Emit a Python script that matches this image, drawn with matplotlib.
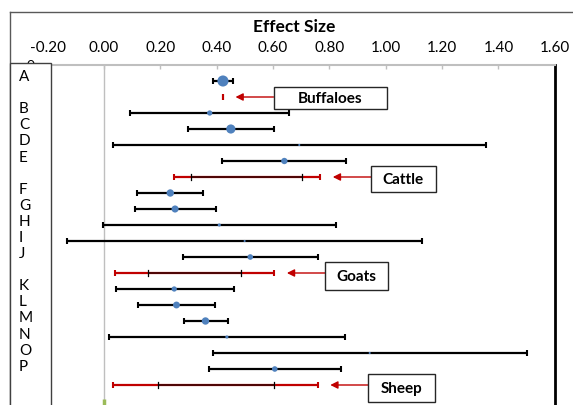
import matplotlib
matplotlib.use("Agg")
import matplotlib.pyplot as plt
from matplotlib.patches import Rectangle
from matplotlib.lines import Line2D
import numpy as np

# ---------------- data ----------------
study_names = ['A', 'B', 'C', 'D', 'E', 'F', 'G', 'H', 'I', 'J',
               'K', 'L', 'M', 'N', 'O', 'P']
study_es = [0.422, 0.375, 0.450, 0.693, 0.640, 0.235, 0.252, 0.409, 0.499, 0.519,
            0.249, 0.257, 0.360, 0.436, 0.943, 0.606]
study_lo = [0.385, 0.092, 0.299, 0.030, 0.420, 0.116, 0.109, -0.005, -0.131, 0.281,
            0.041, 0.120, 0.283, 0.019, 0.385, 0.371]
study_hi = [0.457, 0.658, 0.602, 1.356, 0.860, 0.351, 0.396, 0.822, 1.127, 0.758,
            0.460, 0.395, 0.439, 0.856, 1.503, 0.840]
study_weight = [11.0, 2.5, 7.5, 0.4, 3.6, 4.9, 4.5, 0.9, 0.4, 2.8,
                2.5, 4.2, 4.9, 0.9, 0.4, 2.8]

groups = ['Buffaloes', 'Cattle', 'Goats', 'Sheep']
group_sizes = [1, 4, 5, 6]
group_pi_lo = [0.4205, 0.247, 0.039, 0.033]
group_pi_hi = [0.4215, 0.767, 0.604, 0.758]
group_ci_lo = [0.4205, 0.309, 0.155, 0.191]
group_ci_hi = [0.4215, 0.704, 0.487, 0.602]

x_ticks = [-0.20, 0.00, 0.20, 0.40, 0.60, 0.80, 1.00, 1.20, 1.40, 1.60]
x_title = 'Effect Size'
# text box of study labels (blank lines separate species)
label_lines = ['A', '', 'B', 'C', 'D', 'E', '', 'F', 'G', 'H', 'I', 'J', '',
               'K', 'L', 'M', 'N', 'O', 'P']

# ---------------- layout helpers ----------------
W, H = 573, 406
fig = plt.figure(figsize=(W / 100, H / 100), dpi=100)
plt.rcParams['font.family'] = ['Lato', 'DejaVu Sans']

def fx(px):
    return px / W

def fy(py):
    return 1 - py / H

ax_left_px, ax_right_px = 47.75, 554.75
ax_top_px, row_px, n_rows_axis = 66, 16, 22
ax_bot_px = ax_top_px + row_px * n_rows_axis
ax = fig.add_axes([fx(ax_left_px), fy(ax_bot_px),
                   fx(ax_right_px) - fx(ax_left_px), (ax_bot_px - ax_top_px) / H])
ax.set_xlim(x_ticks[0], x_ticks[-1])
ax.set_ylim(n_rows_axis, 0)

# row positions
study_rows, group_rows = [], []
r = 1
for g, n in zip(groups, group_sizes):
    for _ in range(n):
        study_rows.append(r)
        r += 1
    group_rows.append(r)
    r += 1

red = '#C00000'
blue = '#4F81BD'

# zero line
ax.axvline(0, color='#BFBFBF', lw=1.0, zorder=1)
ax.plot([0, 0], [20.85, 21.4], color='#9BBB59', lw=2.5, zorder=1, solid_capstyle='butt')

# studies
xerr = [np.array(study_es) - np.array(study_lo), np.array(study_hi) - np.array(study_es)]
ax.errorbar(study_es, study_rows, xerr=xerr, fmt='none', ecolor='black',
            elinewidth=1.6, capsize=2.4, capthick=1.5, zorder=3)
ax.scatter(study_es, study_rows, s=5.8 * np.array(study_weight), color=blue,
           zorder=4, linewidths=0)

# group summaries
box_w_px = [113, 65, 63, 67]
box_h_px = [22, 26.5, 27.5, 28]
box_dy_px = [0.9, 2.0, 3.0, 3.3]
unit_px = (ax_right_px - ax_left_px) / (x_ticks[-1] - x_ticks[0])
for i, g in enumerate(groups):
    y = group_rows[i]
    ax.plot([group_pi_lo[i], group_pi_hi[i]], [y, y], color=red, lw=1.6, zorder=2,
            solid_capstyle='butt')
    if group_ci_hi[i] - group_ci_lo[i] > 0.01:
        ax.plot([group_ci_lo[i], group_ci_hi[i]], [y, y], color='#3a0808', lw=1.2,
                zorder=3, solid_capstyle='butt')
        for xv in (group_ci_lo[i], group_ci_hi[i]):
            ax.plot([xv, xv], [y - 0.2, y + 0.2], color='black', lw=0.9, zorder=3)
    for xv in (group_pi_lo[i], group_pi_hi[i]):
        ax.plot([xv, xv], [y - 0.18, y + 0.18], color=red, lw=1.5, zorder=4,
                solid_capstyle='butt')
    head = group_pi_hi[i] + 0.045
    box_left = head + 0.135
    ax.annotate('', xy=(head, y), xytext=(box_left, y),
                arrowprops=dict(arrowstyle='-|>', color=red, lw=1.0,
                                mutation_scale=11, shrinkA=0, shrinkB=0), zorder=5)
    bw = box_w_px[i] / unit_px
    bh = box_h_px[i] / row_px
    cy = y + box_dy_px[i] / row_px
    ax.add_patch(Rectangle((box_left, cy - bh / 2), bw, bh, facecolor='white',
                           edgecolor='#262626', lw=1.0, zorder=6))
    ax.text(box_left + bw / 2, cy, g, ha='center', va='center', fontsize=11,
            fontweight='bold', zorder=7)

# axes styling
for s in ('left', 'bottom'):
    ax.spines[s].set_visible(False)
ax.spines['top'].set_color('#BFBFBF')
ax.spines['top'].set_linewidth(1.5)
ax.spines['right'].set_color('black')
ax.spines['right'].set_linewidth(2.0)
ax.xaxis.tick_top()
ax.set_xticks(x_ticks)
ax.set_xticklabels([f'{v:.2f}' for v in x_ticks])
ax.tick_params(axis='x', direction='in', length=3, color='#BFBFBF', width=1,
               labelsize=11, pad=8, labelcolor='black')
ax.set_yticks([])
ax.patch.set_alpha(0)

# title
fig.text(fx(294), fy(27), x_title, ha='center', va='center', fontsize=12.5,
         fontweight='bold')

# outer chart border
fig.add_artist(Line2D([fx(10), fx(W + 5)], [fy(13), fy(13)], color='#595959', lw=1.0,
                      transform=fig.transFigure, zorder=8))
fig.add_artist(Line2D([fx(10), fx(10)], [fy(13), fy(H + 5)], color='#595959', lw=1.0,
                      transform=fig.transFigure, zorder=8))

# peeking axis label behind the label box
fig.text(fx(30.5), fy(66.5), '0', ha='center', va='center', fontsize=10, zorder=9)

# study label text box
fig.add_artist(Rectangle((fx(10), fy(H + 5)), fx(51) - fx(10), fy(64) - fy(H + 5),
                         facecolor='white', edgecolor='#404040', lw=1.0,
                         transform=fig.transFigure, zorder=10))
for j, t in enumerate(label_lines):
    if t:
        fig.text(fx(19), fy(77 + 16.1 * j), t, ha='left', va='center', fontsize=11,
                 zorder=11)

fig.savefig('out.png', dpi=100)
